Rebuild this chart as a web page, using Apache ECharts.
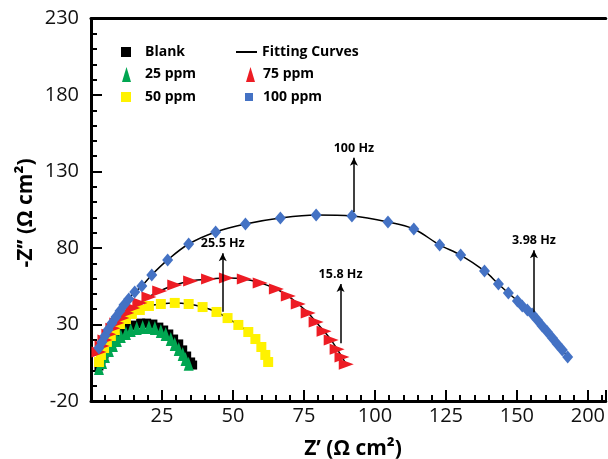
<!DOCTYPE html>
<html>
<head>
<meta charset="utf-8">
<script src="https://cdn.jsdelivr.net/npm/echarts@6/dist/echarts.min.js"></script>
<style>
html,body{margin:0;padding:0;background:#fff;}
#chart{width:608px;height:459px;}
</style>
</head>
<body>
<div id="chart"></div>
<script>
// ---------- data (Z', -Z'') ----------
const blank = [[2.8,2.9],[3.5,6.8],[4.6,10.7],[5.6,14.6],[7.0,17.9],[8.4,21.2],[9.8,23.8],[11.6,26.4],[13.3,28.3],[15.4,29.6],[17.5,30.9],[19.6,30.9],[21.8,30.3],[23.9,28.3],[25.6,26.4],[27.4,23.8],[29.1,20.5],[30.9,17.3],[32.3,13.4],[33.7,9.4],[35.1,5.5],[35.8,3.5]];
const ppm25 = [[2.8,1.6],[3.9,5.5],[4.9,9.4],[6.3,13.4],[7.7,16.6],[9.1,19.9],[10.5,22.5],[12.3,24.4],[14.0,26.4],[16.1,27.7],[18.2,28.3],[20.4,28.3],[22.5,27.7],[24.6,25.7],[26.3,23.8],[28.1,20.5],[29.5,17.3],[30.9,14.0],[32.3,10.8],[33.3,7.5],[34.4,4.3]];
const ppm50 = [[2.8,5.5],[3.5,10.1],[4.6,14.6],[5.6,18.6],[7.0,22.5],[8.4,26.4],[10.2,30.3],[12.3,33.6],[14.4,36.9],[17.2,39.5],[20.4,42.1],[24.6,43.4],[29.5,44.1],[34.4,43.4],[39.3,41.4],[44.2,38.2],[48.1,34.2],[51.9,29.7],[55.4,25.1],[57.9,20.5],[60.0,15.3],[61.4,10.1],[62.4,5.5]];
const ppm75 = [[2.8,12.0],[3.9,15.9],[4.9,19.8],[6.3,23.7],[7.7,27.6],[9.1,31.0],[10.9,34.2],[12.6,37.5],[14.7,40.8],[17.2,44.1],[20.4,48.0],[24.2,51.9],[29.5,55.8],[35.1,58.4],[41.4,59.7],[47.7,60.4],[54.0,59.7],[59.6,57.2],[65.3,53.2],[69.5,48.6],[73.0,43.4],[76.5,37.5],[79.3,31.6],[82.1,25.6],[84.6,19.8],[86.7,13.9],[88.4,8.7],[89.9,4.1]];
const ppm100 = [[2.8,14.6],[3.9,18.6],[4.9,22.5],[6.0,26.5],[7.4,31.0],[8.8,34.9],[10.2,38.8],[11.6,42.7],[13.3,46.7],[15.4,51.2],[17.9,55.2],[21.4,62.4],[27.0,72.2],[34.4,82.6],[43.9,90.5],[54.4,95.7],[66.7,99.6],[79.3,101.6],[91.9,100.9],[104.6,97.0],[113.7,92.4],[122.8,82.0],[130.2,75.4],[138.6,65.0],[143.5,56.5],[147.0,50.6],[150.2,45.4],[151.9,42.1],[153.7,39.5],[155.4,36.9],[157.2,33.0],[158.9,29.1],[160.7,25.2],[162.5,21.2],[164.2,17.3],[166.0,13.4],[167.9,8.8]];

// frequency annotations: label, Z', arrow start -Z'', arrow end -Z''
const annLabels = ['100 Hz','3.98 Hz','15.8 Hz','25.5 Hz'];
const annX      = [92.6, 156.0, 87.9, 46.4];
const annFrom   = [103.5, 38.0, 17.7, 38.4];
const annTo     = [139.0, 78.5, 56.5, 76.5];

// axes
const yTickValues = [-20, 30, 80, 130, 180, 230];
const xTickValues = [25, 50, 75, 100, 125, 150, 175];
const xTickLabels = ['25','50','75','100','125','150','200'];

// ---------- chart ----------
const FONT = '"Open Sans", "DejaVu Sans", sans-serif';
const chart = echarts.init(document.getElementById('chart'), null, {renderer:'canvas'});

function scatter(name, data, color, symbol, size, rotate){
  return {type:'scatter', name, data, symbol, symbolSize:size, symbolRotate:rotate||0,
    itemStyle:{color, opacity:1}, z:3, animation:false};
}
function fit(data){
  return {type:'line', name:'Fitting Curves', data, smooth:0.35, symbol:'none', showSymbol:false,
    lineStyle:{color:'#000', width:1.5}, itemStyle:{color:'#000'}, z:2, animation:false, silent:true};
}

const markLineData = annLabels.map((t,i)=>[
  {coord:[annX[i], annFrom[i]]},
  {coord:[annX[i], annTo[i]], label:{formatter:t}}
]);

function legendBox(name, left, top, w, h, icon, pad){
  return {data:[{name, icon}], left, top, itemWidth:w, itemHeight:h, symbolRotate:0,
    selectedMode:false, padding:0,
    textStyle:{fontFamily:FONT, fontWeight:'bold', fontSize:14, color:'#000', padding:[0,0,0,pad||0]}};
}

const series = [
  fit(blank), fit(ppm25), fit(ppm50), fit(ppm75), fit(ppm100),
  scatter('Blank', blank, '#000000', 'rect', 9),
  scatter('25 ppm', ppm25, '#00a651', 'triangle', [10,14]),
  scatter('50 ppm', ppm50, '#fff200', 'rect', 10),
  scatter('75 ppm', ppm75, '#ed1c24', 'triangle', [11,15], -90),
  scatter('100 ppm', ppm100, '#4472c4', 'diamond', [11,13])
];
series[series.length-1].markLine = {
  silent:true, symbol:['none','arrow'], symbolSize:[6,8], animation:false,
  lineStyle:{color:'#000', width:1.5, type:'solid'},
  label:{show:true, position:'end', distance:3, fontFamily:FONT, fontWeight:'bold', fontSize:12.5, color:'#000'},
  data: markLineData
};

const X_MAX = 181.3;

chart.setOption({
  backgroundColor:'#fff',
  animation:false,
  grid:{left:91, top:18.5, right:0, height:382.5, containLabel:false},
  legend:[
    legendBox('Blank', 121, 45, 10, 10, 'rect', 9),
    legendBox('25 ppm', 122, 67, 9, 15, 'triangle', 9),
    legendBox('50 ppm', 121, 90, 10, 10, 'rect', 9),
    legendBox('Fitting Curves', 236, 45, 21, 2, 'rect', 0),
    legendBox('75 ppm', 246, 67, 9, 15, 'triangle', 3),
    legendBox('100 ppm', 245, 90, 8, 8, 'rect', 5)
  ],
  xAxis:[{
    type:'value', min:0, max:X_MAX, interval:25, position:'bottom',
    axisLine:{show:true, onZero:false, lineStyle:{color:'#000', width:3}},
    axisTick:{show:true, inside:true, length:11, lineStyle:{color:'#000', width:2}},
    minorTick:{show:true, splitNumber:5, length:6, lineStyle:{color:'#000', width:2}},
    splitLine:{show:false},
    axisLabel:{show:true, margin:5, fontFamily:FONT, fontSize:20, color:'#111', showMaxLabel:false,
      formatter:(v)=>{const i = xTickValues.indexOf(v); return i>=0 ? xTickLabels[i] : '';}}
  },{
    type:'value', min:0, max:X_MAX, position:'top',
    axisLine:{show:true, onZero:false, lineStyle:{color:'#000', width:3}},
    axisTick:{show:false}, axisLabel:{show:false}, splitLine:{show:false}
  }],
  yAxis:{
    type:'value', min:-20, max:230, interval:50,
    axisLine:{show:true, onZero:false, lineStyle:{color:'#000', width:3}},
    axisTick:{show:true, inside:true, length:11, lineStyle:{color:'#000', width:2}},
    minorTick:{show:true, splitNumber:5, length:6, lineStyle:{color:'#000', width:2}},
    splitLine:{show:false},
    axisLabel:{margin:12, fontFamily:FONT, fontSize:20, color:'#111',
      formatter:(v)=> yTickValues.indexOf(v)>=0 ? String(v) : ''}
  },
  graphic:[
    {type:'text', x:353, y:449, style:{text:'Z\u2019 (\u03A9 cm\u00B2)', font:'bold 21px '+FONT, fill:'#000', textAlign:'center', textVerticalAlign:'middle'}},
    {type:'text', x:26, y:213, rotation:Math.PI/2, style:{text:'-Z\u2019\u2019 (\u03A9 cm\u00B2)', font:'bold 21px '+FONT, fill:'#000', textAlign:'center', textVerticalAlign:'middle'}}
  ],
  series
});
</script>
</body>
</html>
